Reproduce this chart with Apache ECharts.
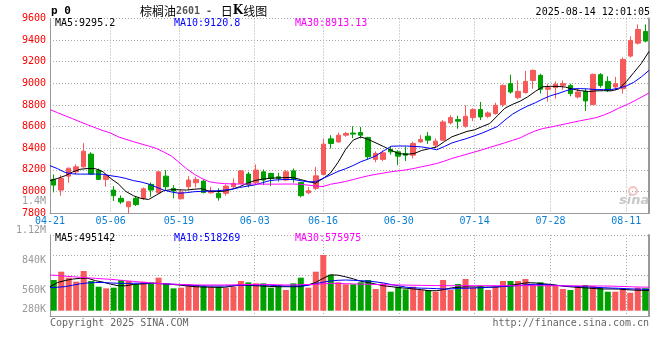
<!DOCTYPE html>
<html><head><meta charset="utf-8">
<script src="https://cdn.jsdelivr.net/npm/echarts@6/dist/echarts.min.js"></script>
<style>html,body{margin:0;padding:0;background:#fff}#c{width:660px;height:360px}</style>
</head><body><div id="c"></div>
<script>
const dates = ['04-21','04-22','04-23','04-24','04-25','04-28','04-29','04-30',
'05-06','05-07','05-08','05-09','05-12','05-13','05-14','05-15','05-16','05-19','05-20','05-21','05-22','05-23','05-26','05-27','05-28','05-29','05-30',
'06-03','06-04','06-05','06-06','06-09','06-10','06-11','06-12','06-13','06-16','06-17','06-18','06-19','06-20','06-23','06-24','06-25','06-26','06-27','06-30',
'07-01','07-02','07-03','07-04','07-07','07-08','07-09','07-10','07-11','07-14','07-15','07-16','07-17','07-18','07-21','07-22','07-23','07-24','07-25','07-28','07-29','07-30','07-31',
'08-01','08-04','08-05','08-06','08-07','08-08','08-11','08-12','08-13','08-14'];
const open  = [8111,8012,8141,8181,8227,8345,8197,8111,8012,7936,7858,7936,7936,8065,7987,8141,8028,7932,8043,8080,8095,7987,7982,7982,8043,8074,8160,8083,8181,8166,8135,8105,8190,8083,7987,8028,8157,8486,8458,8520,8540,8545,8499,8296,8296,8388,8366,8350,8335,8458,8511,8428,8474,8634,8665,8603,8683,8757,8695,8720,8803,8997,8868,8914,9027,9074,8945,8960,8981,8981,8874,8926,8803,9080,9018,8966,8951,9252,9372,9480];
const close = [8058,8120,8215,8227,8372,8160,8111,8148,7960,7902,7904,7877,8024,8012,8181,8043,8003,7994,8105,8111,7990,8003,7941,8049,8074,8190,8058,8197,8105,8120,8120,8181,8111,7960,8006,8144,8437,8443,8520,8536,8530,8520,8320,8351,8357,8366,8326,8335,8443,8480,8474,8465,8643,8683,8650,8695,8757,8689,8726,8797,8981,8920,8926,9018,9120,8945,8960,8991,8997,8905,8920,8837,9083,8981,8935,8997,9221,9397,9498,9391];
const low   = [7991,7960,8080,8157,8220,8155,8105,8043,7911,7883,7797,7865,7920,7950,7985,8012,7936,7925,8012,8037,7982,7980,7914,7960,8030,8068,8037,8058,8058,8049,8090,8095,8080,7945,7975,8012,8150,8397,8450,8505,8492,8490,8295,8270,8280,8340,8243,8280,8305,8450,8440,8400,8470,8620,8580,8590,8650,8660,8680,8710,8780,8905,8852,8905,8951,8905,8831,8859,8940,8880,8860,8745,8800,8960,8920,8935,8905,9240,9360,9380];
const high  = [8157,8151,8218,8250,8446,8363,8212,8155,8049,7963,7906,7957,8037,8083,8185,8197,8058,8012,8141,8135,8105,8043,8028,8065,8120,8197,8181,8249,8203,8172,8172,8197,8212,8090,8040,8227,8486,8520,8545,8550,8603,8597,8505,8370,8380,8415,8380,8415,8460,8520,8550,8490,8660,8705,8700,8797,8770,8828,8740,8820,8990,9080,9027,9114,9129,9089,8997,9018,9027,8997,8950,8950,9090,9095,9065,9060,9240,9434,9545,9545];
// volume, thousands
const volume = [752,956,809,711,973,728,588,547,564,752,728,647,711,694,809,670,547,564,647,630,605,588,588,564,588,728,694,670,670,564,630,507,670,809,564,956,1365,880,696,647,647,696,752,532,670,466,588,524,588,507,507,466,752,507,654,777,564,605,507,588,728,728,728,777,647,696,647,630,532,507,588,630,605,564,466,466,532,441,564,549];
const ma5  = [8100,8120,8145,8180,8205,8212,8210,8181,8120,8070,8000,7960,7935,7925,7965,8006,8016,8015,8012,8020,8025,8002,7998,8002,8020,8043,8075,8100,8113,8121,8125,8127,8129,8110,8092,8076,8118,8170,8270,8390,8475,8504,8480,8448,8415,8380,8350,8343,8350,8378,8395,8412,8460,8505,8530,8555,8570,8600,8628,8700,8770,8805,8835,8875,8925,8968,8972,8972,8965,8945,8932,8924,8930,8932,8930,8948,9015,9100,9185,9295];
const ma10 = [8238,8210,8175,8162,8160,8160,8160,8158,8145,8135,8120,8100,8087,8068,8040,8012,7995,7983,7988,7997,8000,8003,8006,8012,8020,8036,8048,8060,8080,8100,8107,8110,8111,8100,8089,8089,8120,8152,8185,8210,8240,8275,8300,8330,8375,8418,8420,8420,8416,8412,8400,8385,8415,8448,8470,8490,8515,8540,8570,8600,8660,8715,8755,8790,8820,8855,8885,8905,8930,8950,8951,8948,8942,8942,8942,8955,8975,9010,9060,9120];
const ma30 = [8757,8728,8700,8672,8643,8615,8588,8562,8540,8505,8482,8460,8440,8420,8398,8365,8328,8270,8210,8160,8120,8090,8078,8072,8069,8068,8068,8068,8067,8067,8067,8068,8068,8066,8058,8050,8045,8066,8078,8092,8110,8128,8145,8158,8170,8182,8190,8200,8212,8228,8242,8258,8280,8305,8325,8345,8365,8385,8408,8428,8450,8472,8495,8530,8560,8582,8595,8610,8625,8640,8655,8668,8682,8705,8735,8770,8800,8835,8872,8911];
const vma5  = [588,690,740,775,794,794,735,700,650,612,610,645,655,665,671,660,645,630,610,590,581,578,573,575,600,630,622,613,605,595,588,588,588,590,630,690,790,880,870,830,780,720,690,650,610,590,565,550,532,515,490,490,520,560,575,585,580,575,578,581,600,630,660,686,680,660,645,620,595,580,566,555,540,532,532,530,515,505,498,495];
const vma10 = [564,575,590,625,660,680,690,690,680,672,668,672,675,672,668,660,650,640,630,620,610,605,605,605,612,625,630,630,630,625,612,605,605,605,620,660,700,728,745,752,745,735,725,705,680,640,610,575,560,552,548,540,532,535,548,550,556,564,575,586,595,605,620,640,647,640,630,618,605,598,590,584,570,564,555,549,540,532,528,520];
const vma30 = [875,862,846,832,818,805,792,780,769,752,735,718,700,685,672,660,652,645,638,632,630,630,630,630,632,636,640,645,645,640,635,630,632,638,642,647,658,670,668,662,656,650,647,642,638,632,630,627,624,621,618,615,613,613,613,613,613,613,613,613,613,613,613,613,613,612,612,611,610,609,608,607,606,605,602,596,590,584,579,576];
const labelIdx = [0,8,17,27,36,46,56,66,76];
const maLegend = ['MA5:9295.2','MA10:9120.8','MA30:8913.13'];
const volLegend = ['MA5:495142','MA10:518269','MA30:575975'];
const volTickLabels = ['1.12M','840K','560K','280K'];
const extraLabel = '1.4M';
const titleName = '棕榈油', titleCode = '2601', titleTail = '日K线图';
const stamp = '2025-08-14 12:01:05';

const FONT = '"DejaVu Sans Mono", monospace';
const UP = '#f65a5a', DOWN = '#00a000';
const LINE_COLORS = ['#000000', '#0000ff', '#ff00ff'];
const dotted = {show: true, lineStyle: {color: '#aaaaaa', type: [1, 2], width: 1}};
const isLabel = (i) => labelIdx.indexOf(i) >= 0;
const frameLine = {show: true, lineStyle: {color: '#999999', width: 1}};

const candles = dates.map((d, i) => [open[i], close[i], low[i], high[i]]);
const volBars = volume.map((v, i) => ({value: v, itemStyle: {color: close[i] >= open[i] ? UP : DOWN}}));

function lineSeries(name, data, color, xi, yi) {
  return {name, type: 'line', data, xAxisIndex: xi, yAxisIndex: yi, symbol: 'none',
    lineStyle: {color, width: 1}, silent: true, z: 5};
}
function txt(x, y, text, fill, font, align) {
  return {type: 'text', x, y, silent: true, z: 100,
    style: {text, fill, font, textAlign: align || 'left', textVerticalAlign: 'middle',
      align: align || 'left', verticalAlign: 'middle'}};
}

const L = 50, W = 599;
const chart = echarts.init(document.getElementById('c'), null, {renderer: 'canvas'});
const legendX = [55, 174, 295];
const graphics = [
  txt(51, 11, 'p 0', '#000', 'bold 11px ' + FONT),
  {type: 'text', x: 140, y: 11, silent: true, z: 100,
    style: {text: '{c|' + titleName + '}{n|' + titleCode + ' - }{c| }{c|日}{k|K}{c|线图}',
      textVerticalAlign: 'middle', verticalAlign: 'middle',
      rich: {
        c: {font: '12px "Noto Sans CJK SC"', fill: '#000', color: '#000'},
        n: {font: 'bold 10px ' + FONT, fill: '#555', color: '#555'},
        k: {font: 'bold 12px "DejaVu Serif"', fill: '#000', color: '#000'}
      }}},
  txt(650, 12, stamp, '#000', '10px ' + FONT, 'right'),
  txt(46, 201, extraLabel, '#999', '10px ' + FONT, 'right'),
  txt(50, 323.5, 'Copyright 2025 SINA.COM', '#666', '10px ' + FONT),
  txt(649, 323.5, 'http://finance.sina.com.cn', '#666', '10px ' + FONT, 'right'),
  {type: 'circle', silent: true, z: 1, shape: {cx: 633, cy: 191, r: 4}, style: {fill: 'none', stroke: '#f4c4c4', lineWidth: 2}},
  txt(619, 201, 'sina', '#c8c8c8', 'italic bold 13px "DejaVu Sans"')
];
const volY = [230, 260, 290, 309.5];
volTickLabels.forEach((t, i) => graphics.push(txt(46, volY[i], t, '#999', '10px ' + FONT, 'right')));
maLegend.forEach((t, i) => graphics.push(txt(legendX[i], 23.7, t, LINE_COLORS[i], '10px ' + FONT)));
volLegend.forEach((t, i) => graphics.push(txt(legendX[i], 238.7, t, LINE_COLORS[i], '10px ' + FONT)));

chart.setOption({
  animation: false,
  backgroundColor: '#fff',
  grid: [
    {left: L, top: 18.5, width: W, height: 194.5},
    {left: L, top: 235, width: W, height: 81},
    {left: L, top: 235, width: W, height: 75.7}
  ],
  xAxis: [
    {type: 'category', gridIndex: 0, position: 'bottom', data: dates, boundaryGap: true, show: false},
    {type: 'category', gridIndex: 0, position: 'bottom', data: dates, boundaryGap: false,
      axisLine: frameLine, axisTick: {show: false},
      axisLabel: {interval: (i) => isLabel(i), color: '#0a7fd6', fontFamily: '"DejaVu Sans Mono"', fontSize: 10, margin: 3},
      splitLine: Object.assign({interval: (i) => isLabel(i)}, dotted)},
    {type: 'category', gridIndex: 1, position: 'bottom', data: dates, boundaryGap: false,
      axisLine: frameLine, axisTick: {show: false}, axisLabel: {show: false},
      splitLine: Object.assign({interval: (i) => isLabel(i)}, dotted)},
    {type: 'category', gridIndex: 2, position: 'bottom', data: dates, boundaryGap: true, show: false},
    {type: 'category', gridIndex: 2, position: 'bottom', data: dates, boundaryGap: false, show: false}
  ],
  yAxis: [
    {type: 'value', gridIndex: 0, position: 'left', min: 7800, max: 9600, interval: 200,
      axisLine: frameLine, axisTick: {show: false},
      axisLabel: {color: '#ff0000', fontFamily: '"DejaVu Sans Mono"', fontSize: 10, margin: 4,
        formatter: (v) => String(v)},
      splitLine: dotted},
    {type: 'value', gridIndex: 0, min: 7800, max: 9600, interval: 200, position: 'right',
      axisLine: {show: true, lineStyle: {color: '#999', width: 2}}, axisTick: {show: false},
      axisLabel: {show: false}, splitLine: {show: false}},
    {type: 'value', gridIndex: 1, position: 'left', min: 0, max: 4, interval: 1,
      axisLine: frameLine, axisTick: {show: false}, axisLabel: {show: false}, splitLine: dotted},
    {type: 'value', gridIndex: 1, min: 0, max: 4, interval: 1, position: 'right',
      axisLine: {show: true, lineStyle: {color: '#999', width: 2}}, axisTick: {show: false},
      axisLabel: {show: false}, splitLine: {show: false}},
    {type: 'value', gridIndex: 2, position: 'left', min: 0, max: 1855, show: false}
  ],
  series: [
    {type: 'candlestick', data: candles, xAxisIndex: 0, yAxisIndex: 0, barWidth: 5,
      itemStyle: {color: UP, color0: DOWN, borderColor: UP, borderColor0: DOWN, borderWidth: 1}, z: 3},
    lineSeries('MA5', ma5, LINE_COLORS[0], 1, 0),
    lineSeries('MA10', ma10, LINE_COLORS[1], 1, 0),
    lineSeries('MA30', ma30, LINE_COLORS[2], 1, 0),
    {type: 'bar', data: volBars, xAxisIndex: 3, yAxisIndex: 4, barWidth: 6, z: 3},
    lineSeries('VMA5', vma5, LINE_COLORS[0], 4, 4),
    lineSeries('VMA10', vma10, LINE_COLORS[1], 4, 4),
    lineSeries('VMA30', vma30, LINE_COLORS[2], 4, 4)
  ],
  graphic: graphics
});
</script></body></html>
